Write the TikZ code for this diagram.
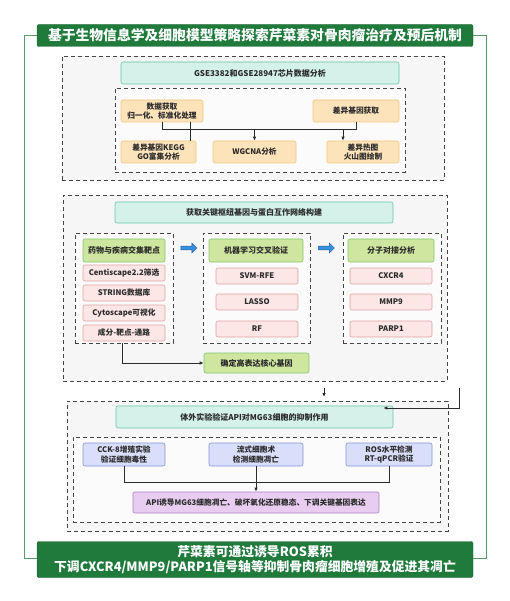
\documentclass[tikz,border=0pt]{standalone}
\usepackage{fontspec}
\setmainfont{Noto Sans CJK SC}
\usetikzlibrary{shapes.arrows,arrows.meta}
\definecolor{dkgreen}{HTML}{1F7A3C}
\definecolor{framec}{HTML}{5A9A6A}
\definecolor{tealf}{HTML}{D4F2EA}
\definecolor{tealb}{HTML}{6CC3A8}
\definecolor{orf}{HTML}{FDE3BA}
\definecolor{orb}{HTML}{F2C683}
\definecolor{grf}{HTML}{CFE6A0}
\definecolor{grb}{HTML}{84C46C}
\definecolor{pkf}{HTML}{FDE6E6}
\definecolor{pkb}{HTML}{E4A2A2}
\definecolor{blf}{HTML}{D9DEFA}
\definecolor{blb}{HTML}{8593DB}
\definecolor{puf}{HTML}{E9CDF0}
\definecolor{pub}{HTML}{B07EC8}
\definecolor{arf}{HTML}{3A90DC}
\definecolor{arb}{HTML}{1F5FA8}
\definecolor{secf}{HTML}{F6F6F6}
\definecolor{dashc}{HTML}{444444}
\definecolor{txt}{HTML}{2B2B2B}
\tikzset{
  base/.style={draw, rounded corners=2pt, line width=0.6pt, inner sep=1pt, align=center,
    font=\bfseries\fontsize{7.7}{9.2}\selectfont, text=txt},
  hdbox/.style={base, fill=tealf, draw=tealb, font=\bfseries\fontsize{8}{10}\selectfont},
  orbox/.style={base, fill=orf, draw=orb},
  grbox/.style={base, fill=grf, draw=grb, font=\bfseries\fontsize{8}{10}\selectfont},
  pkbox/.style={base, fill=pkf, draw=pkb},
  blbox/.style={base, fill=blf, draw=blb},
  pubox/.style={base, fill=puf, draw=pub},
  secbox/.style={draw=dashc, dash pattern=on 4pt off 3pt, line width=0.8pt, fill=secf, inner sep=0pt},
  grpbox/.style={draw=dashc, dash pattern=on 4pt off 3pt, line width=0.8pt, fill=white!60!secf, inner sep=0pt},
  ttlbox/.style={fill=dkgreen, draw=dkgreen!80!black, rounded corners=2pt, text=white, align=center,
    font=\bfseries\fontsize{13.8}{15}\selectfont, inner sep=0pt},
  conn/.style={draw=txt, line width=0.8pt},
  arr/.style={conn, -{Latex[length=4pt,width=3.5pt]}},
  blarrow/.style={single arrow, fill=arf, draw=arb, line width=0.4pt, minimum height=16pt,
    minimum width=10pt, single arrow head extend=2pt, inner sep=1pt}
}
\begin{document}
\begin{tikzpicture}[x=1pt,y=-1pt]
\useasboundingbox (0,0) rectangle (510,601);
% outer frame
\node[draw=framec, line width=0.8pt, minimum width=462pt, minimum height=523pt, inner sep=0pt] (frame) at (255,296.5) {};
\node[ttlbox, minimum width=436pt, minimum height=22pt] (title) at (255,35.5) {基于生物信息学及细胞模型策略探索芹菜素对骨肉瘤治疗及预后机制};
\node[ttlbox, minimum width=436pt, minimum height=36pt, font=\bfseries\fontsize{12.8}{14.5}\selectfont] (concl) at (255,559.5) {芹菜素可通过诱导ROS累积\\下调CXCR4/MMP9/PARP1信号轴等抑制骨肉瘤细胞增殖及促进其凋亡};

% ---------- section 1
\node[secbox, minimum width=382pt, minimum height=124pt] (S1) at (253,118) {};
\node[hdbox, minimum width=278pt, minimum height=22pt] (H1) at (260,73) {GSE3382和GSE28947芯片数据分析};
\node[grpbox, minimum width=290pt, minimum height=84pt] (I1) at (260,130) {};
\node[orbox, minimum width=82pt, minimum height=22pt] (A) at (162,111) {数据获取\\归一化、标准化处理};
\node[orbox, minimum width=86pt, minimum height=22pt] (B) at (356,111) {差异基因获取};
\node[orbox, minimum width=75pt, minimum height=22pt] (C) at (158.5,152) {差异基因KEGG\\GO富集分析};
\node[orbox, minimum width=83pt, minimum height=22pt] (D) at (254.5,152) {WGCNA分析};
\node[orbox, minimum width=72pt, minimum height=22pt] (E) at (363,152) {差异热图\\火山图绘制};
\coordinate (bus1) at (0,129);
\draw[conn] (A.south) -- (A.south |- bus1) -- (B.south |- bus1) -- (B.south);
\draw[arr] (D.north |- bus1) -- (D.north);
\draw[arr] ([xshift=-20pt]E.north |- bus1) -- ([xshift=-20pt]E.north);
\draw[conn] ([xshift=31.5pt]C.north) -- ([xshift=31.5pt]C.north |- A.south);

% ---------- section 2
\node[secbox, minimum width=384pt, minimum height=186pt] (S2) at (255,288) {};
\node[hdbox, minimum width=278pt, minimum height=21pt] (H2) at (254,212.5) {获取关键枢纽基因与蛋白互作网络构建};
\node[grpbox, minimum width=98pt, minimum height=110pt] (G1) at (124,288) {};
\node[grpbox, minimum width=107pt, minimum height=110pt] (G2) at (256.5,288) {};
\node[grpbox, minimum width=98pt, minimum height=110pt] (G3) at (392,288) {};
\node[grbox, minimum width=82pt, minimum height=23pt] (G1h) at (124,250.5) {药物与疾病交集靶点};
\node[pkbox, minimum width=82pt, minimum height=16pt] (P11) at (124,273) {Centiscape2.2筛选};
\node[pkbox, minimum width=82pt, minimum height=16pt] (P12) at (124,293) {STRING数据库};
\node[pkbox, minimum width=82pt, minimum height=16pt] (P13) at (124,313) {Cytoscape可视化};
\node[pkbox, minimum width=82pt, minimum height=16pt] (P14) at (124,333) {成分-靶点-通路};
\node[grbox, minimum width=94pt, minimum height=23pt] (G2h) at (256,250.5) {机器学习交叉验证};
\node[pkbox, minimum width=82pt, minimum height=16pt] (P21) at (257,276) {SVM-RFE};
\node[pkbox, minimum width=82pt, minimum height=16pt] (P22) at (257,302) {LASSO};
\node[pkbox, minimum width=82pt, minimum height=16pt] (P23) at (257,329) {RF};
\node[grbox, minimum width=86pt, minimum height=23pt] (G3h) at (391,250.5) {分子对接分析};
\node[pkbox, minimum width=82pt, minimum height=16pt] (P31) at (391,276) {CXCR4};
\node[pkbox, minimum width=82pt, minimum height=16pt] (P32) at (391,302) {MMP9};
\node[pkbox, minimum width=82pt, minimum height=16pt] (P33) at (391,329) {PARP1};
\node[blarrow] (ar1) at (188,248) {};
\node[blarrow] (ar2) at (325.5,248) {};
\node[grbox, minimum width=105pt, minimum height=20pt] (K) at (256.5,363) {确定高表达核心基因};
\draw[arr] ([xshift=-2pt]G1.south) |- (K.west);

% ---------- between sections
\coordinate (p1) at (324,388);
\coordinate (p2) at (324,397);
\draw[arr] (p1) -- (p2);

% ---------- section 3
\node[secbox, minimum width=381pt, minimum height=130pt] (S3) at (257.5,466) {};
\node[hdbox, minimum width=277pt, minimum height=22pt] (H3) at (254.5,417) {体外实验验证API对MG63细胞的抑制作用};
\node[grpbox, minimum width=367pt, minimum height=85pt] (I3) at (256.5,479.5) {};
\node[blbox, minimum width=82pt, minimum height=23pt] (Q1) at (124,454.5) {CCK-8增殖实验\\验证细胞毒性};
\node[blbox, minimum width=94pt, minimum height=23pt] (Q2) at (256,454.5) {流式细胞术\\检测细胞凋亡};
\node[blbox, minimum width=86pt, minimum height=23pt] (Q3) at (389,454.5) {ROS水平检测\\RT-qPCR验证};
\node[pubox, minimum width=246pt, minimum height=21pt] (R) at (256,502.5) {API诱导MG63细胞凋亡、破坏氧化还原稳态、下调关键基因表达};
\coordinate (bus3) at (0,482);
\draw[conn] (Q1.south) -- (Q1.south |- bus3) -- (Q3.south |- bus3) -- (Q3.south);
\draw[arr] (Q2.south) -- (R.north);

\coordinate (r1) at (459,388);
\draw[arr] (r1) |- ([xshift=-10pt,yshift=9pt]H3.east);
\end{tikzpicture}
\end{document}
